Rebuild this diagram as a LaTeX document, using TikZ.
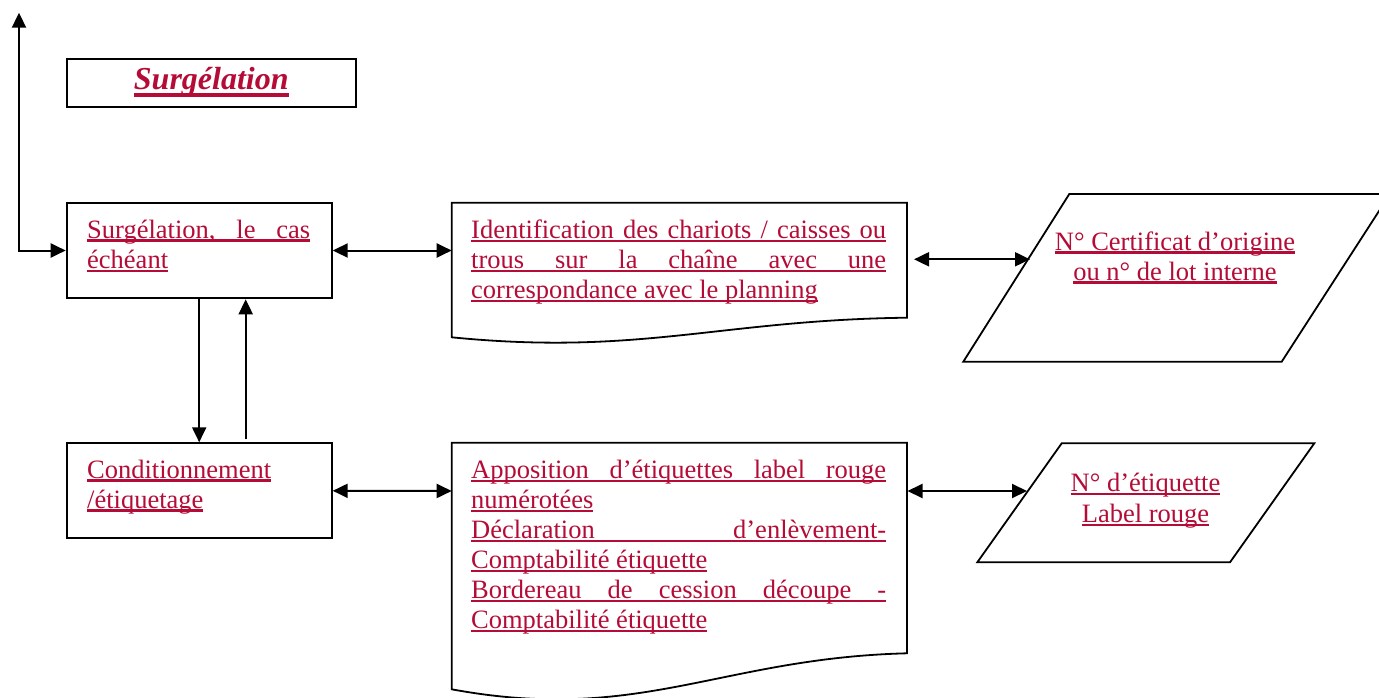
\documentclass[tikz,border=0pt]{standalone}
\usepackage{fontspec}
\setmainfont{Liberation Serif}
\usetikzlibrary{arrows.meta}
\definecolor{lrred}{RGB}{180,12,54}
\newcommand\uln[1]{\setbox0=\hbox{#1}\rlap{\vrule height -1.3pt depth 3.7pt width \wd0}\box0}
\newcommand\tuln[1]{\setbox0=\hbox{#1}\rlap{\vrule height -4pt depth 7.3pt width \wd0}\box0}
\newcommand\ulline[1]{\hbox{\uln{#1}}}
\newcommand\jline[2]{\hbox{\uln{\hbox to #1{#2}}}}
\newcommand\ctrline[1]{\hbox to 300pt{\hss\uln{#1}\hss}}
\tikzset{
  boxstyle/.style={draw, line width=2pt, inner sep=0pt},
  shapeline/.style={draw, line width=1.8pt, line join=miter},
  txt/.style={inner sep=0pt, anchor=base west, text=lrred, font=\fontsize{26.5pt}{30pt}\selectfont},
  conn/.style={line width=2pt, >={Triangle[length=15pt,width=14pt]}},
}
\begin{document}
\begin{tikzpicture}[x=1pt, y=-1pt]
\useasboundingbox (0,0) rectangle (1379,698);
\clip (0,0) rectangle (1379,698);

% title
\node[boxstyle, minimum width=289.3pt, minimum height=48.3pt] (tbox) at (211.3,83.2) {};
\node[inner sep=0pt, anchor=base, text=lrred, font=\fontsize{32pt}{36pt}\selectfont\bfseries\itshape] (title) at (211.3,89.3) {\tuln{Surgélation}};

% rectangles
\node[boxstyle, minimum width=265pt, minimum height=95.6pt] (b1) at (199.2,250.5) {};
\node[boxstyle, minimum width=265pt, minimum height=95pt] (b2) at (199.2,490.8) {};

% documents
\draw[shapeline] (451.7,202.7) -- (907,202.7) -- (907,317.7)
  .. controls (720,320) and (640,356) .. (451.7,337.3) -- cycle;
\draw[shapeline] (451.7,442.7) -- (907,442.7) -- (907,653.3)
  .. controls (720,658) and (640,724) .. (451.7,689.3) -- cycle;

% parallelograms
\draw[shapeline] (1069.3,194) -- (1390,194) -- (1281.7,361.7) -- (963.3,361.7) -- cycle;
\draw[shapeline] (1061.7,443.3) -- (1314.3,443.3) -- (1230,562.3) -- (977.3,562.3) -- cycle;

% connector ends
\coordinate (top) at (19,12.7);
\coordinate (d1w) at (451.7,250.5);
\coordinate (d1e) at (914,259.3);
\coordinate (p1w) at (1030,259.3);
\coordinate (d2w) at (451.7,491);
\coordinate (d2e) at (907.5,491);
\coordinate (p2w) at (1027,491);

% texts
\node[txt] (t1) at (87,238) {\vtop{\baselineskip=30.5pt
  \jline{223pt}{Surgélation,\hfill le\hfill cas}
  \ulline{échéant}}};
\node[txt] (t2) at (471,238.3) {\vtop{\baselineskip=30pt
  \jline{415pt}{Identification\hfill des\hfill chariots\hfill /\hfill caisses\hfill ou}
  \jline{415pt}{trous\hfill sur\hfill la\hfill chaîne\hfill avec\hfill une}
  \ulline{correspondance avec le planning}}};
\node[txt, anchor=base] (t3) at (1175,250) {\vtop{\baselineskip=30pt
  \ctrline{N° Certificat d’origine}
  \ctrline{ou n° de lot interne}}};
\node[txt] (t4) at (87,478) {\vtop{\baselineskip=30pt
  \ulline{Conditionnement}
  \ulline{/étiquetage}}};
\node[txt] (t5) at (471,478.3) {\vtop{\baselineskip=30pt
  \jline{415pt}{Apposition\hfill d’étiquettes\hfill label\hfill rouge}
  \ulline{numérotées}
  \jline{415pt}{Déclaration\hfill d’enlèvement-}
  \ulline{Comptabilité étiquette}
  \jline{415pt}{Bordereau\hfill de\hfill cession\hfill découpe\hfill -}
  \ulline{Comptabilité étiquette}}};
\node[txt, anchor=base] (t6) at (1145.5,491.7) {\vtop{\baselineskip=31pt
  \ctrline{N° d’étiquette}
  \ctrline{Label rouge}}};

% connectors
\draw[conn,<->] (top) |- (b1.west);
\draw[conn,<->] (b1.east) -- (d1w);
\draw[conn,<->] (d1e) -- (p1w);
\draw[conn,<->] (b2.east) -- (d2w);
\draw[conn,<->] (d2e) -- (p2w);
\draw[conn,->] (b1.south) -- (b2.north);
\draw[conn,->] ([xshift=46.5pt,yshift=3pt]b2.north) -- ([xshift=46.5pt]b1.south);
\end{tikzpicture}
\end{document}
